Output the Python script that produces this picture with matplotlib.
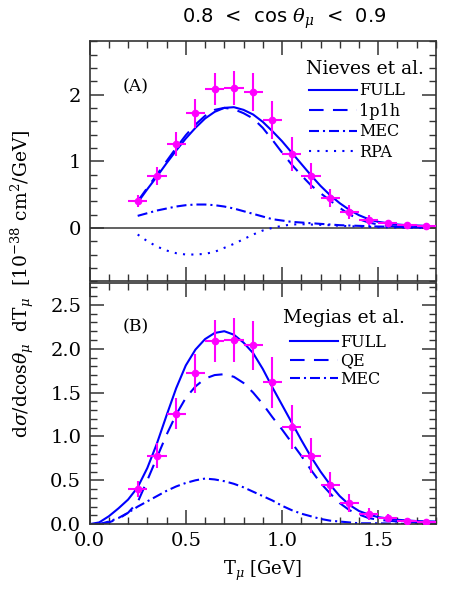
import numpy as np
import matplotlib
matplotlib.use('Agg')
import matplotlib.pyplot as plt
from matplotlib.ticker import MultipleLocator

plt.rcParams['font.family'] = 'DejaVu Serif'
plt.rcParams['mathtext.fontset'] = 'dejavuserif'

# ---- data ----
# T2K data points, 0.8 < cos(theta_mu) < 0.9
t_data = [0.25, 0.35, 0.45, 0.55, 0.65, 0.75, 0.85, 0.95,
          1.05, 1.15, 1.25, 1.35, 1.45, 1.55, 1.65, 1.75]
xs_data = [0.40, 0.78, 1.26, 1.72, 2.09, 2.10, 2.04, 1.62,
           1.11, 0.78, 0.45, 0.24, 0.12, 0.07, 0.04, 0.03]
xs_err = [0.09, 0.14, 0.18, 0.22, 0.24, 0.25, 0.28, 0.29,
          0.25, 0.2, 0.14, 0.1, 0.07, 0.05, 0.03, 0.02]
t_binhalf = [0.05] * 16

# (A) Nieves et al.
t_nieves = [0.25, 0.3, 0.35, 0.4, 0.45, 0.5, 0.55, 0.6, 0.65, 0.7, 0.75, 0.8,
            0.85, 0.9, 0.95, 1.0, 1.05, 1.1, 1.15, 1.2, 1.25, 1.3, 1.35, 1.4,
            1.45, 1.5, 1.55, 1.6, 1.65, 1.7, 1.75]
nieves_full = [0.38, 0.58, 0.77, 0.97, 1.16, 1.34, 1.50, 1.64, 1.74, 1.80, 1.81, 1.77,
               1.70, 1.59, 1.45, 1.30, 1.13, 0.96, 0.79, 0.63, 0.49, 0.37, 0.27, 0.19,
               0.13, 0.09, 0.07, 0.05, 0.04, 0.035, 0.03]
nieves_1p1h = [0.40, 0.60, 0.80, 1.00, 1.20, 1.39, 1.55, 1.68, 1.77, 1.80, 1.78, 1.72,
               1.64, 1.50, 1.32, 1.13, 0.95, 0.79, 0.64, 0.52, 0.41, 0.30, 0.20, 0.13,
               0.08, 0.05, 0.03, 0.02, 0.01, 0.01, 0.01]
nieves_mec = [0.18, 0.22, 0.26, 0.29, 0.32, 0.34, 0.35, 0.35, 0.34, 0.32, 0.29, 0.25,
              0.21, 0.17, 0.13, 0.11, 0.09, 0.08, 0.07, 0.06, 0.05, 0.04, 0.035, 0.03,
              0.025, 0.02, 0.018, 0.015, 0.012, 0.01, 0.01]
nieves_rpa = [-0.10, -0.20, -0.28, -0.34, -0.38, -0.40, -0.40, -0.39, -0.36, -0.30, -0.24, -0.17,
              -0.10, -0.04, 0.0, 0.03, 0.05, 0.055, 0.05, 0.045, 0.04, 0.03, 0.025, 0.02,
              0.015, 0.01, 0.008, 0.005, 0.003, 0.002, 0.0]

# (B) Megias et al.
t_megias = [0.0, 0.05, 0.1, 0.15, 0.2, 0.25, 0.3, 0.35, 0.4, 0.45, 0.5, 0.55, 0.6,
            0.65, 0.7, 0.75, 0.8, 0.85, 0.9, 0.95, 1.0, 1.05, 1.1, 1.15, 1.2, 1.25,
            1.3, 1.35, 1.4, 1.45, 1.5, 1.6, 1.7, 1.8]
megias_full = [0.0, 0.02, 0.09, 0.18, 0.28, 0.42, 0.64, 0.92, 1.24, 1.55, 1.81, 1.99, 2.11,
               2.18, 2.20, 2.16, 2.07, 1.95, 1.77, 1.56, 1.36, 1.16, 0.96, 0.77, 0.60, 0.45,
               0.32, 0.22, 0.15, 0.11, 0.08, 0.05, 0.035, 0.03]
megias_qe = [np.nan, 0.0, 0.02, 0.06, 0.13, 0.25, 0.50, 0.76, 1.02, 1.25, 1.44, 1.57, 1.66,
             1.70, 1.71, 1.68, 1.61, 1.50, 1.37, 1.22, 1.08, 0.93, 0.78, 0.62, 0.47, 0.35,
             0.24, 0.16, 0.11, 0.07, 0.05, 0.03, 0.02, 0.02]
megias_mec = [np.nan, 0.0, 0.03, 0.07, 0.13, 0.20, 0.26, 0.32, 0.38, 0.43, 0.47, 0.50, 0.52,
              0.51, 0.49, 0.46, 0.42, 0.37, 0.32, 0.27, 0.21, 0.16, 0.12, 0.09, 0.06, 0.04,
              0.03, 0.02, 0.01, 0.01, 0.01, 0.005, 0.0, 0.0]

blue = '#0000ff'
mag = '#ff00ff'

fig = plt.figure(figsize=(4.57, 5.97), dpi=100)
ax1 = fig.add_axes([0.196, 0.529, 0.758, 0.402])
ax2 = fig.add_axes([0.196, 0.122, 0.758, 0.404])


def style_axes(ax, ymajor, yminor):
    ax.set_xlim(0, 1.8)
    ax.xaxis.set_major_locator(MultipleLocator(0.5))
    ax.xaxis.set_minor_locator(MultipleLocator(0.1))
    ax.yaxis.set_major_locator(MultipleLocator(ymajor))
    ax.yaxis.set_minor_locator(MultipleLocator(yminor))
    ax.tick_params(which='both', direction='in', top=True, right=True,
                   color='#333333', labelsize=14)
    ax.tick_params(which='major', length=10, width=1.1, pad=6)
    ax.tick_params(which='minor', length=5, width=1.0)
    for s in ax.spines.values():
        s.set_linewidth(1.2)
        s.set_color('#333333')


def draw_data(ax):
    ax.errorbar(t_data, xs_data, yerr=xs_err, xerr=t_binhalf, fmt='o', color=mag,
                ms=4.5, elinewidth=1.5, capsize=0, zorder=5)


# ---- panel A ----
style_axes(ax1, 1, 0.2)
ax1.set_ylim(-0.8, 2.8)
ax1.set_xticklabels([])
ax1.axhline(0, color='#555555', lw=1.3, zorder=1)
l1, = ax1.plot(t_nieves, nieves_full, color=blue, lw=1.5, label='FULL')
l2, = ax1.plot(t_nieves, nieves_1p1h, color=blue, lw=1.5, dashes=(7, 4.5), label='1p1h')
l3, = ax1.plot(t_nieves, nieves_mec, color=blue, lw=1.5, dashes=(4.8, 1.9, 1, 1.9), label='MEC')
l4, = ax1.plot(t_nieves, nieves_rpa, color=blue, lw=1.5, dashes=(1, 3), label='RPA')
draw_data(ax1)
ax1.text(0.095, 0.79, '(A)', transform=ax1.transAxes, fontsize=12.5)
ax1.text(0.965, 0.865, 'Nieves et al.', transform=ax1.transAxes, fontsize=13.5, ha='right')
ax1.legend(handles=[l1, l2, l3, l4], loc='upper left', bbox_to_anchor=(0.615, 0.856),
           frameon=False, fontsize=11.5, handlelength=3.0, handletextpad=0.15,
           labelspacing=0.22, borderaxespad=0)

# ---- panel B ----
style_axes(ax2, 0.5, 0.1)
ax2.set_ylim(0, 2.75)
ax2.yaxis.set_major_formatter(plt.FormatStrFormatter('%.1f'))
ax2.xaxis.set_major_formatter(plt.FormatStrFormatter('%.1f'))
m1, = ax2.plot(t_megias, megias_full, color=blue, lw=1.5, label='FULL')
m2, = ax2.plot(t_megias, megias_qe, color=blue, lw=1.5, dashes=(7, 4.5), label='QE')
m3, = ax2.plot(t_megias, megias_mec, color=blue, lw=1.5, dashes=(4.8, 1.9, 1, 1.9), label='MEC')
draw_data(ax2)
ax2.text(0.095, 0.8, '(B)', transform=ax2.transAxes, fontsize=12.5)
ax2.text(0.91, 0.835, 'Megias et al.', transform=ax2.transAxes, fontsize=13.5, ha='right')
ax2.legend(handles=[m1, m2, m3], loc='upper left', bbox_to_anchor=(0.56, 0.815),
           frameon=False, fontsize=11.5, handlelength=3.0, handletextpad=0.15,
           labelspacing=0.08, borderaxespad=0)
ax2.set_xlabel(r'T$_\mu$ [GeV]', fontsize=13, labelpad=6)

fig.text(0.048, 0.525, r'd$\sigma$/dcos$\theta_\mu$  dT$_\mu$  [10$^{-38}$ cm$^2$/GeV]',
         rotation=90, ha='center', va='center', fontsize=13.5)
fig.text(0.622, 0.968, r'0.8  <  cos $\theta_\mu$  <  0.9', ha='center', va='center',
         fontsize=14, family='DejaVu Sans')

fig.savefig('out.png', dpi=100)
